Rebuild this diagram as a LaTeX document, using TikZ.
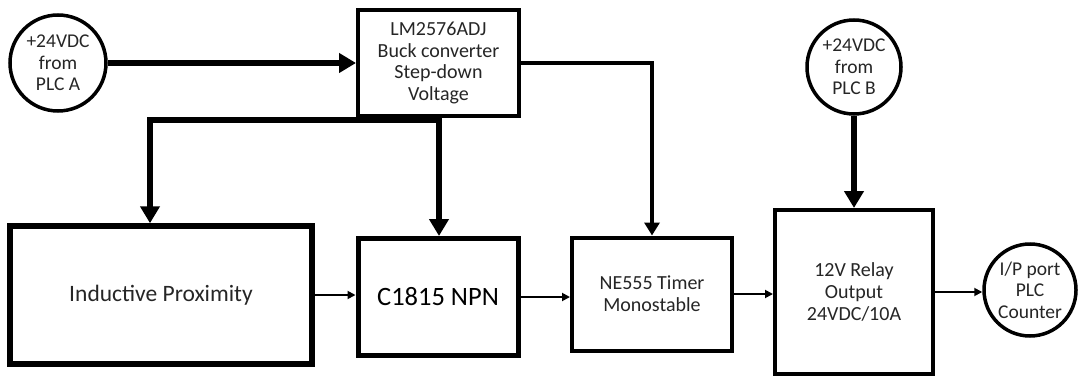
\documentclass[tikz,border=0pt]{standalone}
\usepackage{fontspec}
\setmainfont{Carlito}
\usetikzlibrary{arrows.meta}
\pgfdeclarelayer{edgelayer}
\pgfdeclarelayer{nodelayer}
\pgfsetlayers{edgelayer,nodelayer,main}
\tikzstyle{block}=[rectangle, fill=white, draw=black, line width=4pt, align=center, inner sep=0pt, text=black!85, font=\fontsize{20}{22}\selectfont]
\tikzstyle{port}=[circle, fill=white, draw=black, line width=3.5pt, align=center, inner sep=0pt, text=black!85, font=\fontsize{19.5}{21.5}\selectfont]
\tikzstyle{power}=[draw=black, line width=6pt, -{Triangle[length=17pt,width=19pt]}]
\tikzstyle{supply}=[draw=black, line width=3.5pt, -{Triangle[length=13pt,width=15pt]}]
\tikzstyle{signal}=[draw=black, line width=1.8pt, -{Triangle[length=8pt,width=8pt]}]

\begin{document}
\begin{tikzpicture}[x=1pt, y=-1pt]
				\useasboundingbox (0, 0) rectangle (1078, 377);
				\begin{pgfonlayer}{nodelayer}
					\node [style=port, minimum size=96pt] (0) at (58, 63) {+24VDC\\from\\PLC A};
					\node [style=block, minimum width=161pt, minimum height=106pt, font=\fontsize{20}{21.5}\selectfont] (1) at (438.5, 63) {LM2576ADJ\\Buck converter\\Step-down\\Voltage};
					\node [style=block, line width=5.5pt, minimum width=302pt, minimum height=138pt, font=\fontsize{23.5}{28}\selectfont] (2) at (161, 295) {Inductive Proximity};
					\node [style=block, line width=5pt, minimum width=160pt, minimum height=117pt, text=black, font=\fontsize{26.5}{30}\selectfont] (3) at (438, 297) {C1815 NPN};
					\node [style=block, minimum width=160pt, minimum height=113pt] (4) at (652, 294) {NE555 Timer\\Monostable};
					\node [style=port, minimum size=94pt] (5) at (854, 67) {+24VDC\\from\\PLC B};
					\node [style=block, minimum width=158pt, minimum height=164pt] (6) at (854, 292) {12V Relay\\Output\\24VDC/10A};
					\node [style=port, minimum size=92pt] (7) at (1030, 290) {I/P port\\PLC\\Counter};
					\coordinate (8) at (150, 120);
					\coordinate (9) at (439, 120);
				\end{pgfonlayer}
				\begin{pgfonlayer}{edgelayer}
					\draw [style=power] (0) to (1);
					\draw [style=power] (1.south -| 9) to (9 |- 3.north);
					\draw [style=power] (9) -- (8) -- (8 |- 2.north);
					\draw [style=supply] (1.east) -| (4.north);
					\draw [style=power] (5) to (6);
					\draw [style=signal] (2.east) to (2.east -| 3.west);
					\draw [style=signal] (3.east) to (3.east -| 4.west);
					\draw [style=signal] (4.east) to (4.east -| 6.west);
					\draw [style=signal] (6.east) to (6.east -| 7.west);
				\end{pgfonlayer}
			\end{tikzpicture}
\end{document}
